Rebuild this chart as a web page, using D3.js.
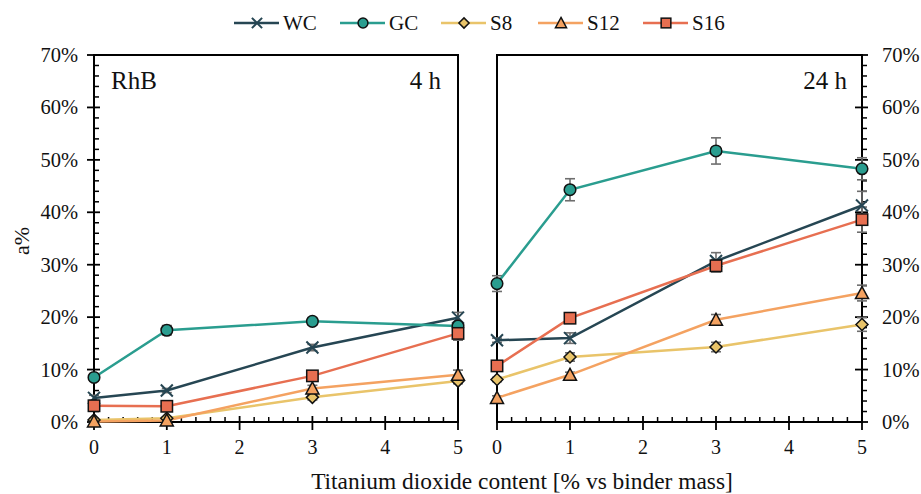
<!DOCTYPE html>
<html>
<head>
<meta charset="utf-8">
<script src="https://cdn.jsdelivr.net/npm/d3@7"></script>
<style>
  html, body { margin: 0; padding: 0; background: #fff; }
  svg { display: block; }
</style>
</head>
<body>
<svg id="chart" width="921" height="494"></svg>
<script>
// TiO2 content levels (% vs binder mass)
const contents = [0, 1, 3, 5];

// Series names and colours
const seriesNames = ["WC", "GC", "S8", "S12", "S16"];
const seriesColors = ["#264653", "#2a9d8f", "#e9c46a", "#f4a261", "#e76f51"];
const seriesShapes = ["cross", "circle", "diamond", "triangle", "square"];

// Degradation a% after 4 h
const wc4h  = [4.6, 6.0, 14.2, 19.9];
const gc4h  = [8.5, 17.5, 19.2, 18.3];
const s8_4h = [0.4, 0.7, 4.7, 7.8];
const s12_4h = [0.1, 0.3, 6.4, 9.0];
const s16_4h = [3.1, 3.0, 8.8, 16.9];

// Standard deviations after 4 h
const wc4hErr  = [0.5, 0.4, 0.6, 1.0];
const gc4hErr  = [0.6, 0.9, 0.7, 0.6];
const s8_4hErr = [0.3, 0.3, 0.5, 0.5];
const s12_4hErr = [0.3, 0.4, 0.6, 0.9];
const s16_4hErr = [0.4, 0.4, 0.5, 1.3];

// Degradation a% after 24 h
const wc24h  = [15.6, 16.0, 30.7, 41.3];
const gc24h  = [26.4, 44.3, 51.7, 48.3];
const s8_24h = [8.1, 12.4, 14.3, 18.6];
const s12_24h = [4.6, 9.0, 19.5, 24.6];
const s16_24h = [10.7, 19.8, 29.8, 38.6];

// Standard deviations after 24 h
const wc24hErr  = [0.4, 1.0, 1.6, 2.7];
const gc24hErr  = [1.5, 2.1, 2.5, 2.1];
const s8_24hErr = [0.4, 0.8, 0.9, 1.3];
const s12_24hErr = [0.4, 0.5, 1.0, 1.5];
const s16_24hErr = [0.4, 0.5, 1.2, 2.4];

// Axis ticks
const xTicks = [0, 1, 2, 3, 4, 5];
const yTicks = [0, 10, 20, 30, 40, 50, 60, 70];

const FONT = '"Liberation Serif"';
const svg = d3.select("#chart");
const errColor = "#6e6e6e";

const y = d3.scaleLinear().domain([0, 70]).range([422, 55]);
const panels = [
  { x: d3.scaleLinear().domain([0, 5]).range([94, 458]),
    values: [wc4h, gc4h, s8_4h, s12_4h, s16_4h],
    errors: [wc4hErr, gc4hErr, s8_4hErr, s12_4hErr, s16_4hErr],
    axisSide: "left" },
  { x: d3.scaleLinear().domain([0, 5]).range([497, 862]),
    values: [wc24h, gc24h, s8_24h, s12_24h, s16_24h],
    errors: [wc24hErr, gc24hErr, s8_24hErr, s12_24hErr, s16_24hErr],
    axisSide: "right" }
];

function addText(g, x, yy, size, str, anchor) {
  return g.append("text").attr("x", x).attr("y", yy)
    .style("font-family", FONT).attr("font-size", size)
    .attr("text-anchor", anchor || "start").attr("fill", "#111").text(str);
}

function drawMarker(g, shape, color, cx, cy, scale) {
  const s = scale || 1;
  if (shape === "cross") {
    const h = 6 * s;
    g.append("path")
      .attr("d", `M${cx - h},${cy - h}L${cx + h},${cy + h}M${cx - h},${cy + h}L${cx + h},${cy - h}`)
      .attr("stroke", color).attr("stroke-width", 2).attr("fill", "none");
  } else if (shape === "circle") {
    g.append("circle").attr("cx", cx).attr("cy", cy).attr("r", 5.8 * s)
      .attr("fill", color).attr("stroke", "#111").attr("stroke-width", 1.5);
  } else if (shape === "diamond") {
    const h = 6 * s;
    g.append("path")
      .attr("d", `M${cx},${cy - h}L${cx + h},${cy}L${cx},${cy + h}L${cx - h},${cy}Z`)
      .attr("fill", color).attr("stroke", "#111").attr("stroke-width", 1.5);
  } else if (shape === "triangle") {
    const h = 6.5 * s;
    g.append("path")
      .attr("d", `M${cx},${cy - h}L${cx + h},${cy + h * 0.85}L${cx - h},${cy + h * 0.85}Z`)
      .attr("fill", color).attr("stroke", "#111").attr("stroke-width", 1.5);
  } else if (shape === "square") {
    const h = 5.7 * s;
    g.append("rect").attr("x", cx - h).attr("y", cy - h).attr("width", 2 * h).attr("height", 2 * h)
      .attr("fill", color).attr("stroke", "#111").attr("stroke-width", 1.5);
  }
}

panels.forEach(p => {
  const g = svg.append("g");
  const x = p.x;
  const [x0, x1] = x.range();
  const [yb, yt] = y.range();

  // minor ticks on x axis (inward)
  const xMinor = d3.range(0, 5.0001, 0.2).filter(v => Math.abs(v - Math.round(v)) > 1e-6);
  g.selectAll(".xminor").data(xMinor).join("line")
    .attr("x1", d => x(d)).attr("x2", d => x(d))
    .attr("y1", yb).attr("y2", yb - 5)
    .attr("stroke", "#000").attr("stroke-width", 1.5);
  // major ticks on x axis (crossing)
  g.selectAll(".xmajor").data(xTicks).join("line")
    .attr("x1", d => x(d)).attr("x2", d => x(d))
    .attr("y1", yb - 6).attr("y2", yb + 8)
    .attr("stroke", "#000").attr("stroke-width", 1.8);
  // x tick labels
  xTicks.forEach(d => addText(g, x(d), 454, 20, d, "middle"));

  // y axis on the outer side
  const ax = p.axisSide === "left" ? x0 : x1;
  const yMinor = d3.range(0, 70.001, 2).filter(v => v % 10 !== 0);
  g.selectAll(".yminor").data(yMinor).join("line")
    .attr("x1", ax).attr("x2", ax + 5)
    .attr("y1", d => y(d)).attr("y2", d => y(d))
    .attr("stroke", "#000").attr("stroke-width", 1.5);
  g.selectAll(".ymajor").data(yTicks).join("line")
    .attr("x1", ax - 7).attr("x2", ax + 6)
    .attr("y1", d => y(d)).attr("y2", d => y(d))
    .attr("stroke", "#000").attr("stroke-width", 1.8);
  yTicks.forEach(d => addText(g, p.axisSide === "left" ? ax - 16 : ax + 20, y(d) + 7, 20.5,
    d + "%", p.axisSide === "left" ? "end" : "start"));

  // frame
  g.append("rect").attr("x", x0).attr("y", yt).attr("width", x1 - x0).attr("height", yb - yt)
    .attr("fill", "none").attr("stroke", "#000").attr("stroke-width", 2);

  // error bars
  p.values.forEach((vals, si) => {
    contents.forEach((c, i) => {
      const e = p.errors[si][i];
      const cx = x(c);
      const lo = y(Math.max(vals[i] - e, 0)), hi = y(vals[i] + e);
      g.append("line").attr("x1", cx).attr("x2", cx).attr("y1", lo).attr("y2", hi)
        .attr("stroke", errColor).attr("stroke-width", 1.6);
      [lo, hi].forEach(yy => g.append("line")
        .attr("x1", cx - 5).attr("x2", cx + 5).attr("y1", yy).attr("y2", yy)
        .attr("stroke", errColor).attr("stroke-width", 1.6));
    });
  });

  // lines and markers
  const line = d3.line().x((d, i) => x(contents[i])).y(d => y(d));
  p.values.forEach((vals, si) => {
    g.append("path").datum(vals).attr("d", line)
      .attr("fill", "none").attr("stroke", seriesColors[si]).attr("stroke-width", 2.5);
  });
  p.values.forEach((vals, si) => {
    vals.forEach((v, i) => drawMarker(g, seriesShapes[si], seriesColors[si], x(contents[i]), y(v)));
  });
});

// panel labels
addText(svg, 111, 89, 25, "RhB");
addText(svg, 441, 89, 25, "4 h", "end");
addText(svg, 847, 89, 25, "24 h", "end");

// axis titles
svg.append("text").attr("transform", "translate(29,241) rotate(-90)")
  .style("font-family", FONT).attr("fill", "#111")
  .attr("text-anchor", "middle").attr("font-size", 22).text("a%");
const title = addText(svg, 522, 489, 22, "Titanium dioxide content [% vs binder mass]", "middle");
// scale the title font so it spans the intended width
const tw = title.node().getComputedTextLength();
if (tw > 0) title.attr("font-size", 22 * 422 / tw);

// legend
const legendX = [234, 340, 441, 538, 643];
const leg = svg.append("g");
seriesNames.forEach((name, i) => {
  const lx = legendX[i], ly = 23;
  leg.append("line").attr("x1", lx).attr("x2", lx + 45).attr("y1", ly).attr("y2", ly)
    .attr("stroke", seriesColors[i]).attr("stroke-width", 2.5);
  drawMarker(leg, seriesShapes[i], seriesColors[i], lx + 23, ly, 0.85);
  addText(leg, lx + 49, ly + 7, 21, name);
});
</script>
</body>
</html>
